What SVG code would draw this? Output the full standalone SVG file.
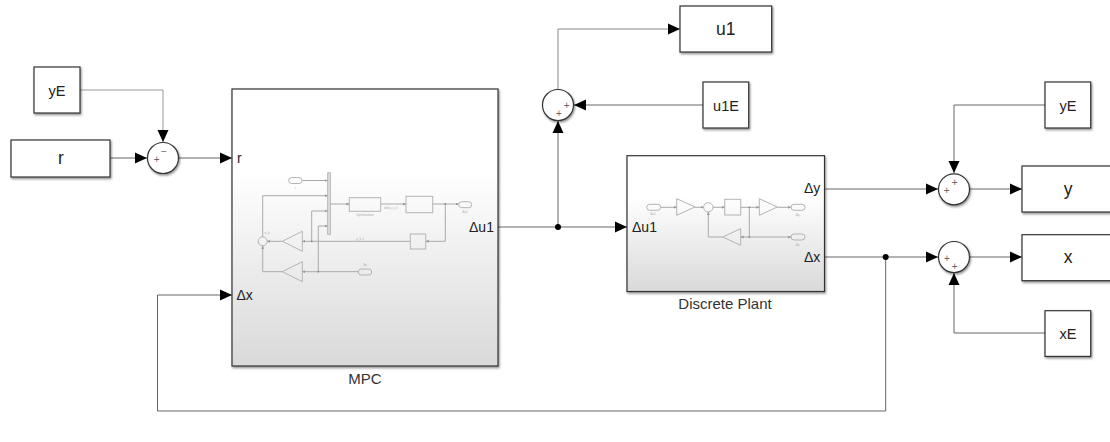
<svg xmlns="http://www.w3.org/2000/svg" width="1110" height="442" viewBox="0 0 1110 442">
<style>
text{font-family:"Liberation Sans",Arial,sans-serif;fill:#222}
.b{fill:#fff;stroke:#333;stroke-width:1.2;filter:url(#sh)}
.big{font-size:17.500px;text-anchor:middle}
.med{font-size:14.500px;text-anchor:middle}
.port{font-size:14px}
.cap{font-size:15px;text-anchor:middle;fill:#333}
.sg{font-size:10px;text-anchor:middle;fill:#666}
.c{fill:none;stroke:#666;stroke-width:1}
.a{marker-end:url(#ah)}
.i{fill:none;stroke:#aaa;stroke-width:1}
.ia{marker-end:url(#iah)}
.ib{fill:none;stroke:#b4b4b4;stroke-width:1}
.t{font-size:3.200px;text-anchor:middle;fill:#aaa}
</style>
<defs>
<filter id="sh" x="-10%" y="-10%" width="125%" height="125%"><feDropShadow dx="1" dy="1.500" stdDeviation="1" flood-color="#000" flood-opacity=".45"/></filter>
<linearGradient id="g" x1="0" y1="0" x2="0" y2="1"><stop offset=".3" stop-color="#fff"/><stop offset="1" stop-color="#d9d9d9"/></linearGradient>
<marker id="ah" markerUnits="userSpaceOnUse" markerWidth="12" markerHeight="12" refX="12" refY="6" orient="auto"><path d="M0 0.500L12 6L0 11.500Z" fill="#000"/></marker>
<marker id="iah" markerUnits="userSpaceOnUse" markerWidth="4" markerHeight="4" refX="3" refY="1.500" orient="auto"><path d="M0 0L3 1.500L0 3Z" fill="#999"/></marker>
</defs>
<rect width="1110" height="442" fill="#fff"/>
<g id="connectors">
<path class="c a" d="M80 90H163V142" style="stroke:#999"/>
<path class="c a" d="M110 158H147"/>
<path class="c a" d="M179 158H232"/>
<path class="c a" d="M498 227H627"/>
<path class="c a" d="M558 227V121"/>
<path class="c a" d="M558 89V29H680" style="stroke:#888"/>
<path class="c a" d="M703 105H574"/>
<path class="c a" d="M1045 105H954V173"/>
<path class="c a" d="M825 189H938"/>
<path class="c a" d="M970 189H1022"/>
<path class="c a" d="M825 257H938"/>
<path class="c a" d="M970 257H1022"/>
<path class="c a" d="M1045 333H954V273"/>
<path class="c a" d="M885.700 257V411H157.500V295H232"/>
<circle cx="558" cy="227" r="3" fill="#000"/>
<circle cx="885.700" cy="257" r="3" fill="#000"/>
</g>
<g id="yE-left"><rect class="b" x="34" y="67" width="46" height="46"/><text class="med" x="57" y="96">yE</text></g>
<g id="r-source"><rect class="b" x="11" y="140" width="99" height="37"/><text class="big" x="61" y="164">r</text></g>
<g id="sum-r"><circle class="b" cx="163" cy="158" r="15.500"/><text class="sg" x="156.700" y="163">+</text><text class="sg" x="164" y="155">−</text></g>
<g id="MPC">
<rect class="b" x="232" y="89" width="266" height="277" style="fill:url(#g)"/>
<text class="port" x="237" y="163">r</text>
<text class="port" x="236.500" y="300">Δx</text>
<text class="port" x="469" y="232">Δu1</text>
<text class="cap" x="365" y="384">MPC</text>
<g id="MPC-inner">
<rect class="ib" x="288.700" y="177.500" width="13.300" height="6" rx="3"/>
<rect x="327.700" y="172.700" width="2.600" height="61.600" fill="#ddd" stroke="#aaa" stroke-width=".8"/>
<rect class="ib" x="349.300" y="197.700" width="31.400" height="13.600"/>
<rect class="ib" x="406" y="196.300" width="26.700" height="16.400"/>
<rect class="ib" x="410.300" y="234" width="15.400" height="15"/>
<rect class="ib" x="458.700" y="201.700" width="13" height="6" rx="3"/>
<rect class="ib" x="358.300" y="269" width="13.400" height="6" rx="3"/>
<path class="ib" d="M302.300 231.300V251.300L282.300 241.300ZM302.300 261.700V281.700L282.300 271.700Z"/>
<circle class="ib" cx="262.700" cy="241.300" r="4.500"/>
<path class="i ia" d="M302 180.500H327.700"/>
<path class="i ia" d="M262.700 236.800V195.700H327.700"/>
<path class="i ia" d="M311.700 241.300V211H327.700"/>
<path class="i ia" d="M318.300 271.700V226H327.700"/>
<path class="i ia" d="M330.300 204H349.300"/>
<path class="i ia" d="M380.700 204H406"/>
<path class="i ia" d="M432.700 204H458.700"/>
<path class="i ia" d="M445.300 204V241.300H425.700"/>
<path class="i ia" d="M410.300 241.300H302.300"/>
<path class="i ia" d="M282.300 241.300H267.200"/>
<path class="i ia" d="M358.300 271.700H302.300"/>
<path class="i ia" d="M282.300 271.700H262.700V245.800"/>
<circle cx="445.300" cy="204" r=".9" fill="#888"/><circle cx="311.700" cy="241.300" r=".9" fill="#888"/><circle cx="318.300" cy="271.700" r=".9" fill="#888"/>
<text class="t" x="295.300" y="189">r</text>
<text class="t" x="365" y="216">Optimization</text>
<text class="t" x="391" y="209">delta_u_k</text>
<text class="t" x="465" y="213">Δu1</text>
<text class="t" x="360" y="240">u_k-1</text>
<text class="t" x="267" y="234">u_k</text>
<text class="t" x="365" y="266">Δx</text>
</g>
</g>
<g id="Discrete-Plant">
<rect class="b" x="627" y="155.700" width="197.500" height="135.800" style="fill:url(#g)"/>
<text class="port" x="632" y="232">Δu1</text>
<text class="port" x="804" y="193">Δy</text>
<text class="port" x="804" y="262">Δx</text>
<text class="cap" x="725" y="309">Discrete Plant</text>
<g id="Plant-inner">
<rect class="ib" x="646.700" y="204.300" width="14" height="6" rx="3"/>
<path class="ib" d="M676.700 198.700V215.300L695 207ZM759.300 198.700V215.300L777.300 207ZM740.700 228.700V245.300L722.700 237Z"/>
<circle class="ib" cx="708.300" cy="207.300" r="4.700"/>
<rect class="ib" x="724.700" y="199.300" width="16" height="15.700"/>
<rect class="ib" x="791" y="204.300" width="14" height="6" rx="3"/>
<rect class="ib" x="791" y="234" width="14" height="6" rx="3"/>
<path class="i ia" d="M660.700 207.300H676.700"/>
<path class="i ia" d="M695 207.300H703.600"/>
<path class="i ia" d="M713 207.300H724.700"/>
<path class="i ia" d="M740.700 207.300H759.300"/>
<path class="i ia" d="M777.300 207.300H791"/>
<path class="i ia" d="M749.300 207.300V237H740.700"/>
<path class="i ia" d="M749.300 237H791"/>
<path class="i ia" d="M722.700 237H708.300V212"/>
<circle cx="749.300" cy="207.300" r=".9" fill="#888"/><circle cx="749.300" cy="237" r=".9" fill="#888"/>
<text class="t" x="653" y="215">Δu1</text>
<text class="t" x="797.700" y="216">Δy</text>
<text class="t" x="797.700" y="246">Δx</text>
</g>
</g>
<g id="sum-u"><circle class="b" cx="558" cy="105" r="15.500"/><text class="sg" x="566.700" y="109">+</text><text class="sg" x="559" y="117">+</text></g>
<g id="u1"><rect class="b" x="680" y="6" width="91.700" height="46"/><text class="big" x="725.700" y="35">u1</text></g>
<g id="u1E"><rect class="b" x="703" y="82" width="45.700" height="46"/><text class="med" x="726" y="111">u1E</text></g>
<g id="yE-right"><rect class="b" x="1045" y="82" width="45.700" height="46"/><text class="med" x="1068" y="111">yE</text></g>
<g id="sum-y"><circle class="b" cx="954" cy="189.300" r="15.500"/><text class="sg" x="946.700" y="193.500">+</text><text class="sg" x="954.700" y="186">+</text></g>
<g id="y"><rect class="b" x="1022" y="166" width="100" height="46"/><text class="big" x="1068" y="195">y</text></g>
<g id="sum-x"><circle class="b" cx="954" cy="257" r="15.500"/><text class="sg" x="947" y="262">+</text><text class="sg" x="954.700" y="269.500">+</text></g>
<g id="x"><rect class="b" x="1022" y="234.700" width="100" height="46"/><text class="big" x="1068" y="263">x</text></g>
<g id="xE"><rect class="b" x="1045" y="310.700" width="45.700" height="45.700"/><text class="med" x="1068" y="339">xE</text></g>
</svg>
